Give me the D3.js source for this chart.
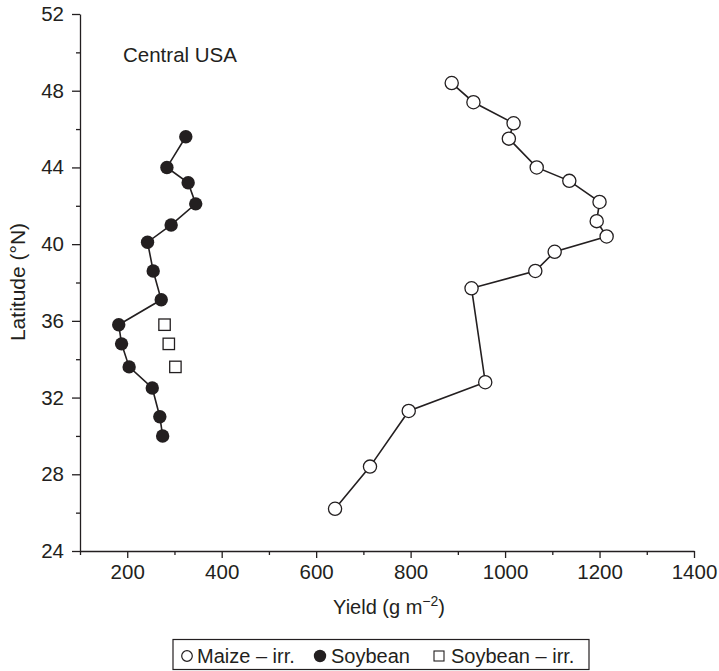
<!DOCTYPE html>
<html>
<head>
<meta charset="utf-8">
<script src="https://cdn.jsdelivr.net/npm/d3@7"></script>
<style>
  body { margin: 0; background: #fff; }
  svg text { font-family: "Liberation Sans", Arial, Helvetica, sans-serif; fill: #231f20; }
</style>
</head>
<body>
<svg id="chart" width="719" height="671"></svg>
<script>
// ---- Data ----
const maizeYield = [887, 933, 1018, 1008, 1067, 1136, 1200, 1194, 1215, 1105, 1064, 929, 958, 796, 714, 640];
const maizeLat   = [48.4, 47.4, 46.3, 45.5, 44.0, 43.3, 42.2, 41.2, 40.4, 39.6, 38.6, 37.7, 32.8, 31.3, 28.4, 26.2];

const soyYield = [324, 284, 329, 345, 293, 243, 255, 272, 182, 188, 204, 253, 269, 275];
const soyLat   = [45.6, 44.0, 43.2, 42.1, 41.0, 40.1, 38.6, 37.1, 35.8, 34.8, 33.6, 32.5, 31.0, 30.0];

const soyIrrYield = [279, 288, 302];
const soyIrrLat   = [35.8, 34.8, 33.6];

const xTicks = [200, 400, 600, 800, 1000, 1200, 1400];
const xMinor = [100, 300, 500, 700, 900, 1100, 1300];
const yTicks = [24, 28, 32, 36, 40, 44, 48, 52];
const yMinor = [26, 30, 34, 38, 42, 46, 50];

const legendLabels = ["Maize \u2013 irr.", "Soybean", "Soybean \u2013 irr."];

// ---- Layout ----
const ink = "#231f20";
const svg = d3.select("#chart");
const x = d3.scaleLinear().domain([100, 1400]).range([80, 694]);
const y = d3.scaleLinear().domain([24, 52]).range([551, 14]);

// Axes
svg.append("g").attr("transform", `translate(0,${y(24)})`)
  .call(d3.axisBottom(x).tickValues(xTicks).tickSize(7).tickSizeOuter(0).tickPadding(6).tickFormat(d3.format("d")));
svg.append("g").attr("transform", `translate(0,${y(24)})`)
  .call(d3.axisBottom(x).tickValues(xMinor).tickSize(4).tickSizeOuter(0).tickFormat(""))
  .select(".domain").remove();
svg.append("g").attr("transform", `translate(${x(100)},0)`)
  .call(d3.axisLeft(y).tickValues(yTicks).tickSize(8).tickSizeOuter(0).tickPadding(8).tickFormat(d3.format("d")));
svg.append("g").attr("transform", `translate(${x(100)},0)`)
  .call(d3.axisLeft(y).tickValues(yMinor).tickSize(4).tickSizeOuter(0).tickFormat(""))
  .select(".domain").remove();

svg.selectAll(".domain, .tick line").attr("stroke", ink).attr("stroke-width", 1.3);
svg.selectAll(".tick text").attr("font-size", 20.5).attr("font-family", "Liberation Sans, Arial, sans-serif").attr("fill", ink);

// Axis titles
svg.append("text").attr("x", 389).attr("y", 614).attr("text-anchor", "middle").attr("font-size", 20)
  .html('Yield (g m<tspan baseline-shift="super" font-size="14">\u22122</tspan>)');
svg.append("text").attr("transform", `translate(25,282) rotate(-90)`).attr("text-anchor", "middle").attr("font-size", 21)
  .text("Latitude (\u00b0N)");

// Panel label
svg.append("text").attr("x", 123).attr("y", 62).attr("font-size", 20.5).text("Central USA");

// Lines
const line = d3.line().x(d => x(d[0])).y(d => y(d[1]));
const maize = maizeYield.map((v, i) => [v, maizeLat[i]]);
const soy = soyYield.map((v, i) => [v, soyLat[i]]);
const soyIrr = soyIrrYield.map((v, i) => [v, soyIrrLat[i]]);

svg.append("path").datum(soy).attr("d", line).attr("fill", "none").attr("stroke", ink).attr("stroke-width", 1.6);
svg.append("path").datum(maize).attr("d", line).attr("fill", "none").attr("stroke", ink).attr("stroke-width", 1.6);

svg.selectAll(".soy").data(soy).enter().append("circle")
  .attr("cx", d => x(d[0])).attr("cy", d => y(d[1])).attr("r", 6.7).attr("fill", ink);
svg.selectAll(".maize").data(maize).enter().append("circle")
  .attr("cx", d => x(d[0])).attr("cy", d => y(d[1])).attr("r", 6.6)
  .attr("fill", "#fff").attr("stroke", ink).attr("stroke-width", 1.3);
svg.selectAll(".soyirr").data(soyIrr).enter().append("rect")
  .attr("x", d => x(d[0]) - 5.7).attr("y", d => y(d[1]) - 5.7).attr("width", 11.4).attr("height", 11.4)
  .attr("fill", "#fff").attr("stroke", ink).attr("stroke-width", 1.3);

// Legend
const lg = svg.append("g");
lg.append("rect").attr("x", 173).attr("y", 639.5).attr("width", 416).attr("height", 30)
  .attr("fill", "#fff").attr("stroke", ink).attr("stroke-width", 1.2);
lg.append("circle").attr("cx", 187).attr("cy", 656).attr("r", 5.3).attr("fill", "#fff").attr("stroke", ink).attr("stroke-width", 1.2);
lg.append("text").attr("x", 197).attr("y", 662.5).attr("font-size", 20).text(legendLabels[0]);
lg.append("circle").attr("cx", 320).attr("cy", 656).attr("r", 6.2).attr("fill", ink);
lg.append("text").attr("x", 331).attr("y", 662.5).attr("font-size", 20).text(legendLabels[1]);
lg.append("rect").attr("x", 434).attr("y", 651).attr("width", 10).attr("height", 10).attr("fill", "#fff").attr("stroke", ink).attr("stroke-width", 1.1);
lg.append("text").attr("x", 451).attr("y", 662.5).attr("font-size", 20).text(legendLabels[2]);
</script>
</body>
</html>
